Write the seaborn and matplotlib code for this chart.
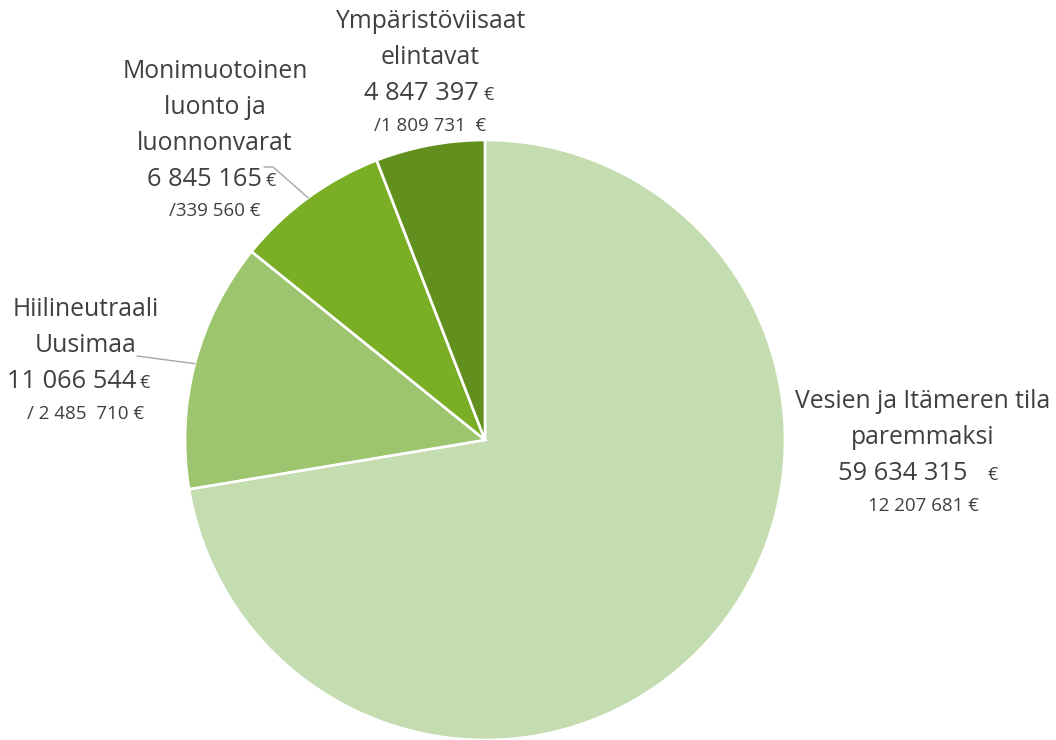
import numpy as np
import seaborn as sns
import matplotlib.pyplot as plt

# data
categories = ["Vesien ja Itämeren tila\nparemmaksi",
              "Hiilineutraali\nUusimaa",
              "Monimuotoinen\nluonto ja\nluonnonvarat",
              "Ympäristöviisaat\nelintavat"]
values = [59634315, 11066544, 6845165, 4847397]
value_labels = ["59 634 315", "11 066 544", "6 845 165", "4 847 397"]
sub_labels = ["12 207 681 €", "/ 2 485  710 €", "/339 560 €", "/1 809 731  €"]
colors = ["#c3dcb0", "#9dc46f", "#79ae25", "#62901e"]

sns.set_theme(style="white")
plt.rcParams['font.family'] = ['Open Sans', 'DejaVu Sans']
txt = "#404040"

fig = plt.figure(figsize=(10.56, 7.40), dpi=100)
ax = fig.add_axes([0, 0, 1, 1])

cx, cy, r = 485, 300, 300
wedges, _ = ax.pie(values, colors=sns.color_palette(colors), startangle=90,
                   counterclock=False, center=(cx, cy), radius=r,
                   wedgeprops=dict(edgecolor="white", linewidth=1.9))
ax.set_xlim(0, 1056)
ax.set_ylim(0, 740)
ax.set_aspect("equal")
ax.axis("off")

# label layout in pixels from top-left
layout = [
    dict(x=923, y=402, nend=968, ex=987),
    dict(x=86, y=310, nend=136, ex=139),
    dict(x=215, y=72, nend=262, ex=266),
    dict(x=430, y=22, nend=479, ex=484),
]
step = 35.5
for i, lay in enumerate(layout):
    lines = categories[i].split("\n")
    y = lay["y"]
    for ln in lines:
        ax.text(lay["x"], 740 - y, ln, ha="center", va="center", fontsize=17.8, color=txt)
        y += step
    y += 1
    ax.text(lay["nend"], 740 - y, value_labels[i], ha="right", va="center", fontsize=18.3, color=txt)
    ax.text(lay["ex"], 740 - y - 1, "€", ha="left", va="center", fontsize=13, color=txt)
    y += 32
    ax.text(lay["x"], 740 - y, sub_labels[i], ha="center", va="center", fontsize=13.5, color=txt)

# leader lines to wedge mid-edges
def edge_point(w):
    a = np.deg2rad((w.theta1 + w.theta2) / 2)
    return cx + r * np.cos(a), cy + r * np.sin(a)

hx, hy = edge_point(wedges[1])
ax.plot([137, hx], [740 - 356, hy], color="#a6a6a6", lw=1.0)
mx, my = edge_point(wedges[2])
ax.plot([264, 273, mx], [740 - 167, 740 - 167, my], color="#a6a6a6", lw=1.0)

fig.savefig("out.png", dpi=100)
